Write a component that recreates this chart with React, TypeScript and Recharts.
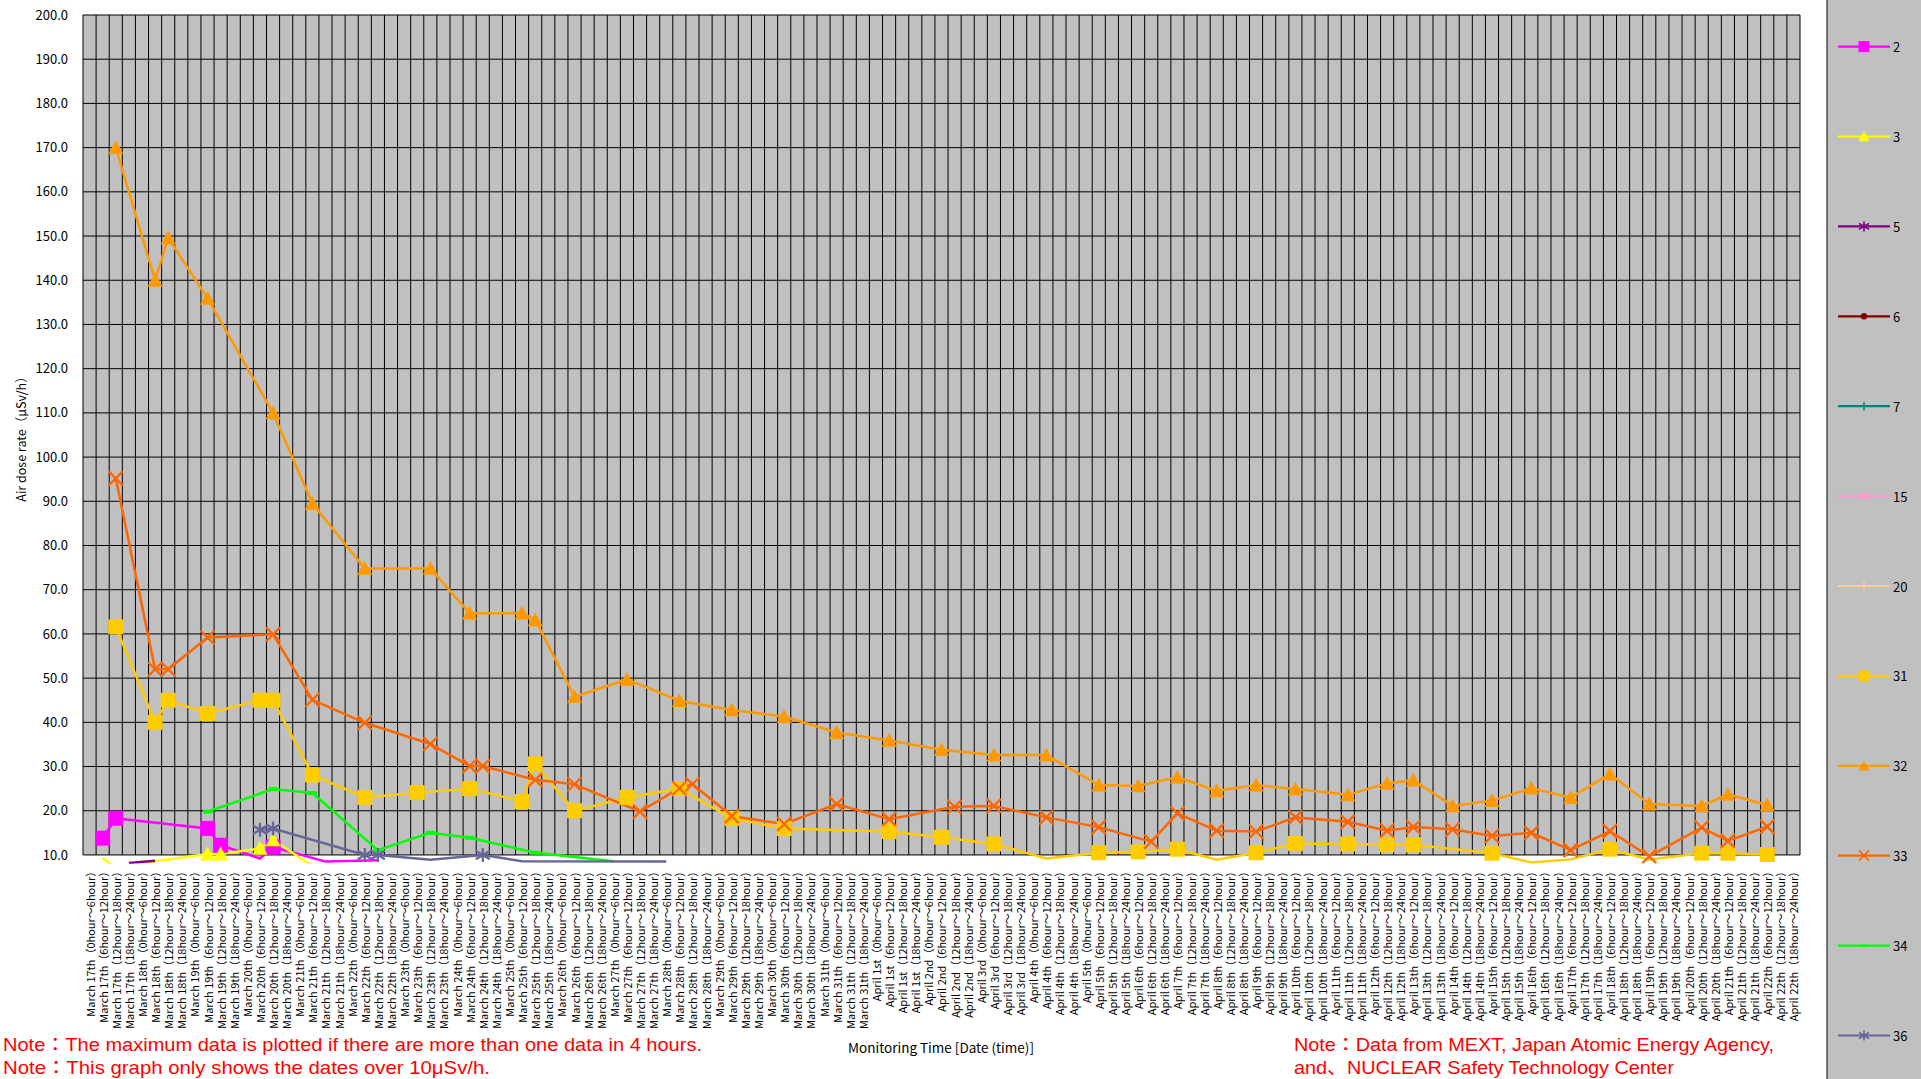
import React from 'react'
import { LineChart, Line, XAxis, YAxis, CartesianGrid } from 'recharts'

// x categories: 4 slots a day until April 5th, then 3 slots (no 0~6 hour)
const marchDays = [17, 18, 19, 20, 21, 22, 23, 24, 25, 26, 27, 28, 29, 30, 31]
const aprilFourSlotDays = [1, 2, 3, 4, 5]
const aprilThreeSlotDays = [6, 7, 8, 9, 10, 11, 12, 13, 14, 15, 16, 17, 18, 19, 20, 21, 22]
const slots = ['0hour～6hour', '6hour～12hour', '12hour～18hour', '18hour～24hour']
const yTicks = [10, 20, 30, 40, 50, 60, 70, 80, 90, 100, 110, 120, 130, 140, 150, 160, 170, 180, 190, 200]

const aprilSuffix = (d: number) => (d === 1 ? 'st' : d === 2 ? 'nd' : d === 3 ? 'rd' : 'th')

const categories = [
  ...marchDays.flatMap((d) => slots.map((s) => `March ${d}th（${s}）`)),
  ...aprilFourSlotDays.flatMap((d) => slots.map((s) => `April ${d}${aprilSuffix(d)}（${s}）`)),
  ...aprilThreeSlotDays.flatMap((d) => slots.slice(1).map((s) => `April ${d}${aprilSuffix(d)}（${s}）`))
]

// [category index, µSv/h] per monitoring point
const point2: [number, number][] = [[1, 13.8], [2, 18.3], [9, 16], [10, 12.2], [13, 9.2], [14, 11.8], [18, 8.5], [22, 8.8]]
const point3: [number, number][] = [[1, 9.3], [2, 7], [5, 8.6], [9, 10.2], [10, 10.2], [13, 11.5], [14, 13.4], [17, 7.5]]
const point5: [number, number][] = [[3, 8.2], [5, 8.7]]
const point6: [number, number][] = []
const point7: [number, number][] = []
const point15: [number, number][] = []
const point20: [number, number][] = []
const point31: [number, number][] = [
  [2, 61.6], [5, 40], [6, 45], [9, 42], [13, 45], [14, 45], [17, 28.1], [21, 23], [25, 24.1], [29, 25],
  [33, 22.1], [34, 30.6], [37, 20], [41, 23], [45, 25], [49, 18.3], [53, 16], [61, 15.3], [65, 14], [69, 12.5],
  [73, 9.2], [77, 10.5], [80, 10.7], [83, 11.3], [86, 8.9], [89, 10.5], [92, 12.6], [96, 12.5], [99, 12.3], [101, 12.3],
  [107, 10.4], [110, 8.3], [113, 9], [116, 11.3], [119, 9], [123, 10.4], [125, 10.4], [128, 10.1]
]
const point32: [number, number][] = [
  [2, 170], [5, 140], [6, 149.6], [9, 135.9], [14, 110], [17, 89.5], [21, 74.8], [26, 74.8], [29, 64.7], [33, 64.7],
  [34, 63.2], [37, 45.8], [41, 49.7], [45, 44.9], [49, 42.8], [53, 41.3], [57, 37.7], [61, 35.9], [65, 33.8], [69, 32.6],
  [73, 32.6], [77, 25.8], [80, 25.6], [83, 27.6], [86, 24.5], [89, 25.8], [92, 24.9], [96, 23.6], [99, 26.2], [101, 26.9],
  [104, 21.1], [107, 22.3], [110, 25.1], [113, 23], [116, 28.3], [119, 21.5], [123, 21.1], [125, 23.7], [128, 21.3]
]
const point33: [number, number][] = [
  [2, 95.2], [5, 52], [6, 52], [9, 59.2], [14, 59.9], [17, 45.1], [21, 39.9], [26, 35.1], [29, 30.1], [30, 30.1],
  [34, 27], [37, 26], [42, 19.8], [45, 25.1], [46, 26], [49, 18.8], [53, 17], [57, 21.5], [61, 18.1], [66, 20.9],
  [69, 21.1], [73, 18.5], [77, 16.3], [81, 13], [83, 19.4], [86, 15.5], [89, 15.3], [92, 18.5], [96, 17.5], [99, 15.5],
  [101, 16.3], [104, 15.8], [107, 14.3], [110, 15], [113, 11.1], [116, 15.4], [119, 9.7], [123, 16.2], [125, 13.2], [128, 16.4]
]
const point34: [number, number][] = [[9, 19.8], [14, 24.9], [17, 24], [22, 11.1], [26, 15], [29, 13.9], [34, 10.5], [40, 8.6]]
const point36: [number, number][] = [[13, 15.7], [14, 16], [21, 10], [22, 10], [26, 8.9], [30, 10], [33, 8.6], [44, 8.5]]

type Shape = 'square' | 'triangle' | 'star' | 'circle' | 'plus' | 'x' | 'dash'

const series: { key: string; name: string; color: string; shape: Shape; points: [number, number][] }[] = [
  { key: 'p2', name: '2', color: '#ff00ff', shape: 'square', points: point2 },
  { key: 'p3', name: '3', color: '#ffff00', shape: 'triangle', points: point3 },
  { key: 'p5', name: '5', color: '#800080', shape: 'star', points: point5 },
  { key: 'p6', name: '6', color: '#800000', shape: 'circle', points: point6 },
  { key: 'p7', name: '7', color: '#008080', shape: 'plus', points: point7 },
  { key: 'p15', name: '15', color: '#ff99cc', shape: 'star', points: point15 },
  { key: 'p20', name: '20', color: '#ffcc99', shape: 'plus', points: point20 },
  { key: 'p31', name: '31', color: '#ffcc00', shape: 'square', points: point31 },
  { key: 'p32', name: '32', color: '#ff9900', shape: 'triangle', points: point32 },
  { key: 'p33', name: '33', color: '#ff6600', shape: 'x', points: point33 },
  { key: 'p34', name: '34', color: '#00ff00', shape: 'dash', points: point34 },
  { key: 'p36', name: '36', color: '#666699', shape: 'star', points: point36 }
]

const rows = categories.map((label, i) => {
  const row: Record<string, string | number | null> = { label }
  series.forEach((s) => {
    const hit = s.points.find(([k]) => k === i)
    row[s.key] = hit ? hit[1] : null
  })
  return row
})

const FONT = "'Noto Sans CJK JP', 'Noto Sans', sans-serif"
const NOTE_FONT = "'Liberation Sans', 'Noto Sans CJK JP', sans-serif"

function Marker({ shape, cx, cy, size, color }: { shape: Shape; cx: number; cy: number; size: number; color: string }) {
  const h = size / 2
  const sw = Math.max(1.6, size / 6)
  switch (shape) {
    case 'square':
      return <rect x={cx - h} y={cy - h} width={size} height={size} fill={color} />
    case 'triangle':
      return <polygon points={`${cx},${cy - h} ${cx + h},${cy + h * 0.85} ${cx - h},${cy + h * 0.85}`} fill={color} />
    case 'circle':
      return <circle cx={cx} cy={cy} r={h * 0.8} fill={color} />
    case 'x':
      return <path d={`M${cx - h},${cy - h}L${cx + h},${cy + h}M${cx + h},${cy - h}L${cx - h},${cy + h}`} stroke={color} strokeWidth={sw} fill='none' />
    case 'plus':
      return <path d={`M${cx - h},${cy}L${cx + h},${cy}M${cx},${cy - h}L${cx},${cy + h}`} stroke={color} strokeWidth={sw} fill='none' />
    case 'star':
      return (
        <path
          d={`M${cx - h},${cy - h * 0.6}L${cx + h},${cy + h * 0.6}M${cx + h},${cy - h * 0.6}L${cx - h},${cy + h * 0.6}M${cx},${cy - h}L${cx},${cy + h}`}
          stroke={color}
          strokeWidth={sw}
          fill='none'
        />
      )
    case 'dash':
      return <rect x={cx - h} y={cy - size * 0.22} width={size} height={size * 0.44} fill={color} />
  }
  return null
}

const markerSize: Record<Shape, number> = { square: 15, triangle: 15, star: 14, circle: 11, plus: 12, x: 14, dash: 9 }

function makeDot(shape: Shape, color: string) {
  return (props: any) => {
    const { cx, cy, value, index } = props
    if (value == null || cx == null || cy == null || value < 9.5) return <g key={`d-${index}`} />
    return (
      <g key={`d-${index}`}>
        <Marker shape={shape} cx={cx} cy={cy} size={markerSize[shape]} color={color} />
      </g>
    )
  }
}

function DateTick({ x, y, payload }: any) {
  return (
    <text x={x} y={y} transform={`rotate(-90, ${x}, ${y})`} textAnchor='end' dominantBaseline='central' fontSize={11} fontFamily={FONT} fill='#000'>
      {payload.value}
    </text>
  )
}

export default function App() {
  return (
    <div style={{ position: 'absolute', left: 0, top: 0, width: 1921, height: 1079, background: '#fff', overflow: 'hidden' }}>
      <LineChart width={1921} height={1079} data={rows} margin={{ top: 15, right: 121, bottom: 0, left: 0 }}>
        <CartesianGrid
          y={15}
          height={840}
          fill='#c0c0c0'
          fillOpacity={1}
          stroke='#000'
          strokeWidth={1}
          syncWithTicks
          verticalCoordinatesGenerator={({ offset }: any) =>
            Array.from({ length: categories.length + 1 }, (_, i) => offset.left + (i * offset.width) / categories.length)
          }
        />
        <XAxis
          dataKey='label'
          interval={0}
          tick={<DateTick />}
          tickLine={false}
          axisLine={false}
          tickSize={0}
          tickMargin={2}
          height={215.2}
          padding={{ left: 6.55, right: 6.55 }}
        />
        <YAxis
          type='number'
          domain={[8, 200]}
          allowDataOverflow
          ticks={yTicks}
          width={83}
          axisLine={false}
          tickLine={false}
          tickSize={0}
          tickMargin={15}
          tickFormatter={(v: number) => v.toFixed(1)}
          tick={{ fontSize: 13, fill: '#000', fontFamily: FONT }}
        />
        {series.map((s) => (
          <Line
            key={s.key}
            dataKey={s.key}
            name={s.name}
            type='linear'
            stroke={s.color}
            strokeWidth={2.5}
            connectNulls
            dot={makeDot(s.shape, s.color)}
            activeDot={false}
            isAnimationActive={false}
          />
        ))}
      </LineChart>

      <svg width={1921} height={1079} style={{ position: 'absolute', left: 0, top: 0, pointerEvents: 'none' }}>
        <text x={20} y={436} transform='rotate(-90, 20, 436)' textAnchor='middle' dominantBaseline='central' fontSize={12.5} fontFamily={FONT}>
          Air dose rate（μSv/h）
        </text>
        <text x={941} y={1047} textAnchor='middle' dominantBaseline='central' fontSize={13.5} fontFamily={FONT}>
          Monitoring Time [Date (time)]
        </text>
        <g fill='#ff0000' fontSize={18.5} fontFamily={NOTE_FONT}>
          <text x={3} y={1044} dominantBaseline='central' textLength={699} lengthAdjust='spacingAndGlyphs'>
            Note：The maximum data is plotted if there are more than one data in 4 hours.
          </text>
          <text x={3} y={1067} dominantBaseline='central' textLength={487} lengthAdjust='spacingAndGlyphs'>
            Note：This graph only shows the dates over 10μSv/h.
          </text>
          <text x={1294} y={1044} dominantBaseline='central' textLength={480} lengthAdjust='spacingAndGlyphs'>
            Note：Data from MEXT, Japan Atomic Energy Agency,
          </text>
          <text x={1294} y={1067} dominantBaseline='central' textLength={380} lengthAdjust='spacingAndGlyphs'>
            and、NUCLEAR Safety Technology Center
          </text>
        </g>
        <rect x={1827} y={-2} width={100} height={1084} fill='#c0c0c0' stroke='#000' strokeWidth={1} />
        {series.map((s, k) => {
          const cy = 46.6 + k * 89.9
          return (
            <g key={s.key}>
              <line x1={1838} x2={1890} y1={cy} y2={cy} stroke={s.color} strokeWidth={2.2} />
              <Marker shape={s.shape} cx={1864} cy={cy} size={Math.round(markerSize[s.shape] * 0.7)} color={s.color} />
              <text x={1893} y={cy} dominantBaseline='central' fontSize={13} fontFamily={FONT} fill='#000'>
                {s.name}
              </text>
            </g>
          )
        })}
      </svg>
    </div>
  )
}
